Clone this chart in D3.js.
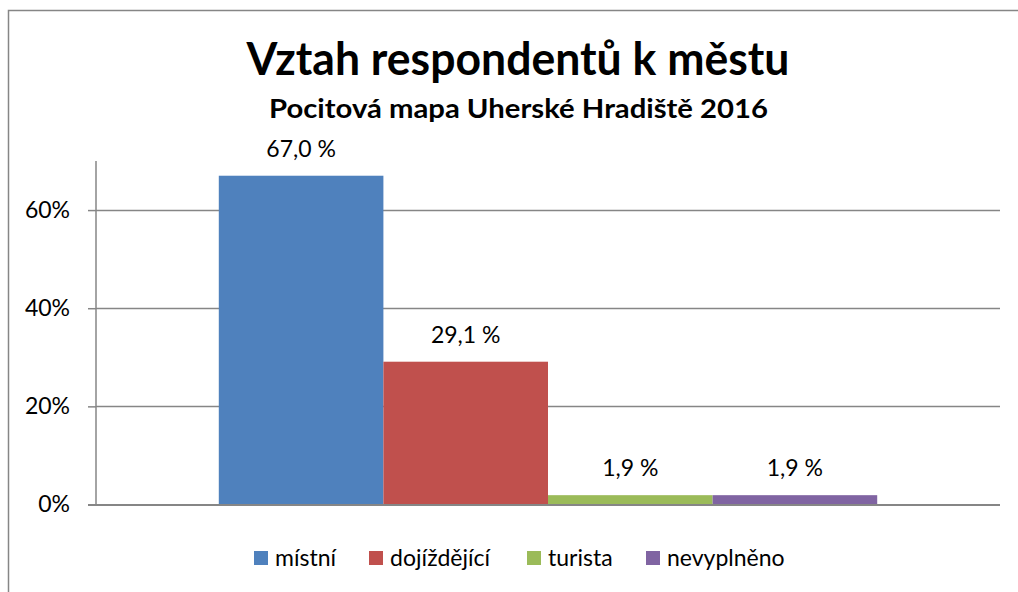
<!DOCTYPE html>
<html>
<head>
<meta charset="utf-8">
<script src="https://cdn.jsdelivr.net/npm/d3@7"></script>
<style>
  html, body { margin: 0; padding: 0; background: #fff; }
  svg { display: block; font-family: Lato, "Open Sans", sans-serif; }
</style>
</head>
<body>
<svg id="chart" width="1018" height="592"></svg>
<script>
/* Vztah respondentů k městu — one category, four series side by side. */

var seriesNames = ["místní", "dojíždějící", "turista", "nevyplněno"];
var seriesValues = [0.670, 0.291, 0.019, 0.019];
var seriesLabels = ["67,0 %", "29,1 %", "1,9 %", "1,9 %"];
var seriesColors = ["#4F81BD", "#C0504D", "#9BBB59", "#8064A2"];
var yTicks = [0, 0.2, 0.4, 0.6];

(function () {
  var d3 = window.d3;
  var svg = d3.select("#chart");
  var W = 1018, H = 592;
  var left = 96, right = 1000, plotTop = 161, bottom = 504.5;
  var grey = "#868686";

  // outer frame (runs off the right/bottom edge like the source)
  svg.append("rect").attr("x", 8.5).attr("y", 10.5).attr("width", W).attr("height", H)
    .attr("fill", "none").attr("stroke", grey).attr("stroke-width", 1.5);

  svg.append("text").attr("x", 518).attr("y", 75).attr("text-anchor", "middle")
    .attr("font-size", 45).attr("font-weight", 700).attr("fill", "#000")
    .attr("textLength", 543).attr("lengthAdjust", "spacingAndGlyphs")
    .text("Vztah respondentů k městu");
  svg.append("text").attr("x", 518.5).attr("y", 118).attr("text-anchor", "middle")
    .attr("font-size", 26).attr("font-weight", 700).attr("fill", "#000")
    .attr("textLength", 499).attr("lengthAdjust", "spacingAndGlyphs")
    .text("Pocitová mapa Uherské Hradiště 2016");

  var y = d3.scaleLinear().domain([0, 0.7]).range([bottom, plotTop]);
  var x0 = d3.scaleBand().domain(["all"]).range([left, right]).paddingInner(0).paddingOuter(0.1865);
  var x1 = d3.scaleBand().domain(seriesNames).range([0, x0.bandwidth()]).padding(0);

  // gridlines
  svg.append("g").selectAll("line").data(yTicks.filter(function (t) { return t > 0; })).join("line")
    .attr("x1", left).attr("x2", right)
    .attr("y1", function (t) { return Math.round(y(t)) + 0.5; })
    .attr("y2", function (t) { return Math.round(y(t)) + 0.5; })
    .attr("stroke", grey).attr("stroke-width", 1.5);

  // y axis
  var yAxis = d3.axisLeft(y).tickValues(yTicks).tickSize(8).tickPadding(18)
    .tickFormat(function (t) { return Math.round(t * 100) + "%"; });
  var ga = svg.append("g").attr("transform", "translate(" + left + ",0)").call(yAxis);
  ga.select(".domain").attr("stroke", grey).attr("stroke-width", 1.5)
    .attr("d", "M0," + plotTop + "V" + bottom);
  ga.selectAll(".tick line").attr("stroke", grey).attr("stroke-width", 1.5);
  ga.selectAll(".tick text").attr("font-size", 23).attr("fill", "#000")
    .attr("font-family", "Lato, 'Open Sans', sans-serif");

  // bars
  var gb = svg.append("g").attr("transform", "translate(" + x0("all") + ",0)");
  gb.selectAll("rect").data(seriesNames).join("rect")
    .attr("x", function (d) { return x1(d); })
    .attr("y", function (d, i) { return y(seriesValues[i]); })
    .attr("width", x1.bandwidth())
    .attr("height", function (d, i) { return bottom - y(seriesValues[i]); })
    .attr("fill", function (d, i) { return seriesColors[i]; });

  gb.selectAll("text").data(seriesNames).join("text")
    .attr("x", function (d) { return x1(d) + x1.bandwidth() / 2; })
    .attr("y", function (d, i) { return y(seriesValues[i]) - 19; })
    .attr("text-anchor", "middle").attr("font-size", 23).attr("fill", "#000")
    .text(function (d, i) { return seriesLabels[i]; });

  // x baseline
  svg.append("line").attr("x1", left - 8).attr("x2", right)
    .attr("y1", bottom + 0.5).attr("y2", bottom + 0.5)
    .attr("stroke", grey).attr("stroke-width", 2);

  // legend
  var legX = [254, 369, 527, 646];
  var lg = svg.append("g");
  seriesNames.forEach(function (n, i) {
    lg.append("rect").attr("x", legX[i]).attr("y", 551).attr("width", 14).attr("height", 14)
      .attr("fill", seriesColors[i]);
    lg.append("text").attr("x", legX[i] + 21).attr("y", 566).attr("font-size", 23)
      .attr("fill", "#000").text(n);
  });
})();
</script>
</body>
</html>
